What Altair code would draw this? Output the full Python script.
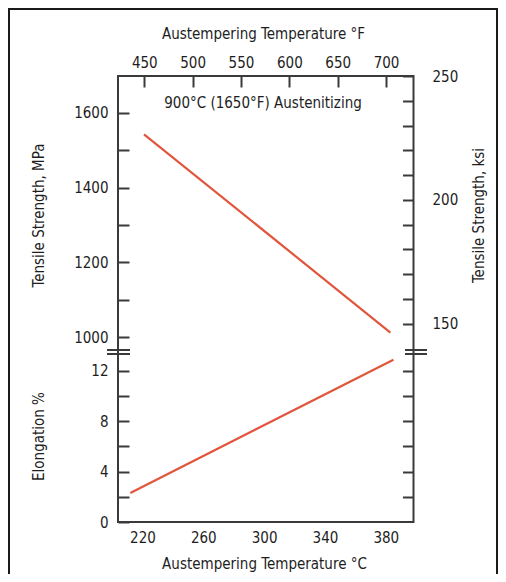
import altair as alt
import pandas as pd

# ---------------- data ----------------
strength_temp_c = [221, 383]
strength_mpa = [1543, 1012]
elong_temp_c = [212, 385]
elongation_pct = [2.3, 12.9]

mpa_ticks = [1000, 1100, 1200, 1300, 1400, 1500, 1600]
ksi_ticks = [150, 160, 170, 180, 190, 200, 210, 220, 230, 240, 250]
elong_ticks = [0, 2, 4, 6, 8, 10, 12]
f_ticks = [450, 500, 550, 600, 650, 700]
c_ticks = [220, 260, 300, 340, 380]
annotation = ["900°C (1650°F) Austenitizing"]

# ---------------- styling / geometry ----------------
FONT = "'DejaVu Sans Condensed', 'Liberation Sans', sans-serif"
FS = 15
TXT = "#1e1e1e"
FR = "#3a3a3a"
RED = "#e1553c"
W, H = 490, 566
L, R, T, B, BR = 110, 405.5, 68, 514, 344.5
TICK = 11

strength_df = pd.DataFrame({"c": strength_temp_c, "mpa": strength_mpa})
strength_df["ksi"] = strength_df["mpa"] / 6.895
strength_df["f"] = strength_df["c"] * 9 / 5 + 32
elong_df = pd.DataFrame({"c": elong_temp_c, "el": elongation_pct})
one = pd.DataFrame({"t": annotation})

xC = alt.Scale(domain=[203.9, 398.2], range=[L, R], zero=False, nice=False)
xF = alt.Scale(domain=[422.8, 728.4], range=[L, R], zero=False, nice=False)
yMPa = alt.Scale(domain=[958.5, 1699.1], range=[BR, T], zero=False, nice=False)
yKsi = alt.Scale(domain=[138.4, 250], range=[BR, T], zero=False, nice=False)
yEl = alt.Scale(domain=[0, 13.47], range=[B, BR], zero=False, nice=False)

common = dict(
    domain=False, grid=False, labelFont=FONT, labelFontSize=FS, labelColor=TXT,
    titleFont=FONT, titleColor=TXT, titleFontWeight="normal", titleFontSize=FS,
    tickColor=FR, tickWidth=2, labelFlush=False, labelOverlap=False,
    titleAlign="center", titleBaseline="middle",
)

strength_line = alt.Chart(strength_df).mark_line(color=RED, strokeWidth=2.2).encode(
    x=alt.X("c:Q", scale=xC, axis=alt.Axis(
        orient="bottom", offset=B - H, ticks=False, tickSize=0, values=c_ticks,
        labelPadding=8.5, title="Austempering Temperature °C", titleX=256, titleY=41,
        **common)),
    y=alt.Y("mpa:Q", scale=yMPa, axis=alt.Axis(
        orient="left", offset=-(L + TICK), tickSize=TICK, values=mpa_ticks, format="d",
        labelExpr="datum.value % 200 === 0 ? datum.label : ''", labelPadding=10,
        title="Tensile Strength, MPa", titleX=-91, titleY=207, titleAngle=270,
        **common)),
)

ksi_axis = alt.Chart(strength_df).mark_line(opacity=0).encode(
    x=alt.X("c:Q", scale=xC, axis=None),
    y=alt.Y("ksi:Q", scale=yKsi, axis=alt.Axis(
        orient="right", offset=(R - TICK) - W, tickSize=TICK, values=ksi_ticks,
        labelExpr="datum.value % 50 === 0 ? datum.label : ''", labelPadding=18.5,
        title="Tensile Strength, ksi", titleX=75.5, titleY=207, titleAngle=270,
        **common)),
)

f_axis = alt.Chart(strength_df).mark_line(opacity=0).encode(
    x=alt.X("f:Q", scale=xF, axis=alt.Axis(
        orient="top", offset=-(T + TICK), tickSize=TICK, values=f_ticks,
        labelPadding=6, title="Austempering Temperature °F", titleX=255, titleY=-54,
        **common)),
    y=alt.Y("mpa:Q", scale=yMPa, axis=None),
)

elong_line = alt.Chart(elong_df).mark_line(color=RED, strokeWidth=2.2).encode(
    x=alt.X("c:Q", scale=xC, axis=None),
    y=alt.Y("el:Q", scale=yEl, axis=alt.Axis(
        orient="left", offset=-(L + TICK), tickSize=TICK, values=elong_ticks,
        labelExpr="datum.value % 4 === 0 ? datum.label : ''", labelPadding=10,
        title="Elongation %", titleX=-90.5, titleY=428, titleAngle=270,
        **common)),
)

elong_right = alt.Chart(elong_df).mark_line(opacity=0).encode(
    x=alt.X("c:Q", scale=xC, axis=None),
    y=alt.Y("el:Q", scale=yEl, axis=alt.Axis(
        orient="right", offset=(R - TICK) - W, tickSize=TICK, values=elong_ticks[1:],
        labels=False, title=None, **common)),
)

frame = alt.Chart(one).mark_rect(fillOpacity=0, stroke=FR, strokeWidth=2).encode(
    x=alt.value(L), x2=alt.value(R), y=alt.value(T), y2=alt.value(B))

def rule(x1, x2, y1, y2, color=FR, w=2):
    return alt.Chart(one).mark_rule(color=color, strokeWidth=w).encode(
        x=alt.value(x1), x2=alt.value(x2), y=alt.value(y1), y2=alt.value(y2))

breaks = [
    rule(99, 122, 342, 342), rule(99, 122, 346, 346),
    rule(397, 419, 342, 342), rule(397, 419, 346, 346),
]
border = [
    rule(1, 1, 0, H, color="#1a1a1a"),
    rule(1, 489, 1, 1, color="#1a1a1a"),
    rule(489, 489, 0, H, color="#1a1a1a"),
]

note = alt.Chart(one).mark_text(font=FONT, fontSize=FS, color=TXT).encode(
    x=alt.value(255), y=alt.value(95), text="t:N")

chart = alt.layer(
    *border, frame, *breaks, ksi_axis, f_axis, elong_right, strength_line, elong_line, note
).resolve_scale(x="independent", y="independent").properties(
    width=W, height=H, autosize=alt.AutoSizeParams(type="none"), padding=0
).configure_view(stroke=None)

chart.save("out.html", embed_options={"renderer": "svg", "actions": False})
